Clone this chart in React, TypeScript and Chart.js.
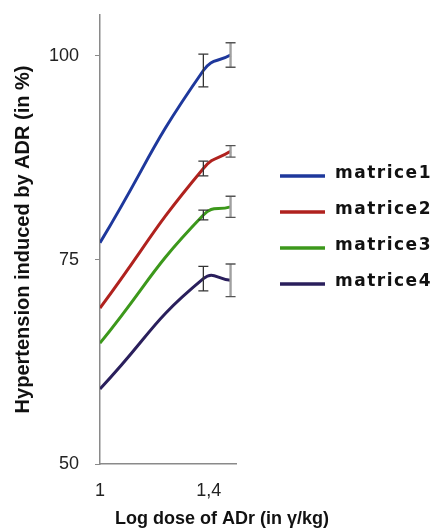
import React, { useEffect, useRef } from 'react';
import { Chart, registerables } from 'chart.js';
Chart.register(...registerables);

// ---- data ----
const doses = [1, 1.38, 1.48];
const seriesNames = ['matrice1', 'matrice2', 'matrice3', 'matrice4'];
const matrice1 = [77.1, 98.2, 100.1];
const matrice2 = [69.1, 86.2, 88.3];
const matrice3 = [64.8, 80.5, 81.5];
const matrice4 = [59.2, 72.7, 72.5];
const err1 = [0, 2.0, 1.5];
const err2 = [0, 0.9, 0.7];
const err3 = [0, 0.6, 1.3];
const err4 = [0, 1.5, 2.0];
const xTicks = [1, 1.4];
const yTicks = [50, 75, 100];
const xTitle = 'Log dose of ADr (in γ/kg)';
const yTitle = 'Hypertension induced by ADR (in %)';

const colors = ['#1e389c', '#b0221e', '#3c981b', '#2a1f5c'];
const seriesValues = [matrice1, matrice2, matrice3, matrice4];
const seriesErrors = [err1, err2, err3, err4];

const errorBarPlugin = {
  id: 'errorBars',
  afterDatasetsDraw(chart: any, _args: any, opts: any) {
    const { ctx, scales } = chart;
    const x = scales.x, y = scales.y;
    chart.data.datasets.forEach((ds: any) => {
      const errs = ds.errors;
      if (!errs) return;
      ds.data.forEach((p: any, i: number) => {
        const e = errs[i];
        if (!e) return;
        const px = x.getPixelForValue(p.x);
        const top = y.getPixelForValue(p.y + e);
        const bot = y.getPixelForValue(p.y - e);
        ctx.save();
        ctx.lineWidth = opts.widths[i] || 1.2;
        ctx.strokeStyle = opts.colors[i] || '#333';
        ctx.beginPath();
        ctx.moveTo(px, top);
        ctx.lineTo(px, bot);
        ctx.stroke();
        ctx.lineWidth = 1.3;
        ctx.strokeStyle = opts.capColors[i] || '#333';
        ctx.beginPath();
        ctx.moveTo(px - opts.cap, top);
        ctx.lineTo(px + opts.cap, top);
        ctx.moveTo(px - opts.cap, bot);
        ctx.lineTo(px + opts.cap, bot);
        ctx.stroke();
        ctx.restore();
      });
    });
  },
};

const sideLegendPlugin = {
  id: 'sideLegend',
  afterDraw(chart: any, _args: any, opts: any) {
    const { ctx, chartArea } = chart;
    const x0 = chartArea.right + opts.offsetX;
    chart.data.datasets.forEach((ds: any, i: number) => {
      const yc = chartArea.top + opts.offsetY + i * opts.spacing;
      ctx.save();
      ctx.strokeStyle = ds.borderColor;
      ctx.lineWidth = 3.5;
      ctx.beginPath();
      ctx.moveTo(x0, yc);
      ctx.lineTo(x0 + opts.lineLen, yc);
      ctx.stroke();
      ctx.fillStyle = '#111';
      ctx.font = opts.font;
      (ctx as any).letterSpacing = opts.letterSpacing;
      ctx.textBaseline = 'middle';
      ctx.textAlign = 'left';
      ctx.fillText(ds.label, x0 + opts.lineLen + opts.gap, yc - 2);
      ctx.restore();
    });
  },
};

const xTitlePlugin = {
  id: 'xTitleText',
  afterDraw(chart: any, _args: any, opts: any) {
    const { ctx, chartArea } = chart;
    ctx.save();
    ctx.fillStyle = '#111';
    ctx.font = opts.font;
    ctx.textAlign = 'center';
    ctx.textBaseline = 'middle';
    ctx.fillText(opts.text, chartArea.left + opts.dx, chartArea.bottom + opts.dy);
    ctx.restore();
  },
};

export default function App() {
  const ref = useRef<HTMLCanvasElement | null>(null);

  useEffect(() => {
    if (!ref.current) return;
    const datasets = seriesNames.map((name, si) => ({
      label: name,
      data: doses.map((d, i) => ({ x: d, y: seriesValues[si][i] })),
      errors: seriesErrors[si],
      borderColor: colors[si],
      backgroundColor: colors[si],
      borderWidth: 3,
      pointRadius: 0,
      tension: 0.5,
      fill: false,
    }));

    const chart = new Chart(ref.current, {
      type: 'line',
      data: { datasets } as any,
      options: {
        animation: false,
        responsive: false,
        layout: { padding: { top: 15, right: 202, left: 0, bottom: 0 } },
        plugins: {
          legend: { display: false },
          tooltip: { enabled: false },
          errorBars: {
            colors: ['#333', '#333', '#a0a0a0'],
            capColors: ['#333', '#333', '#555'],
            widths: [0, 1.3, 2.4],
            cap: 5,
          },
          sideLegend: {
            offsetX: 44,
            offsetY: 161,
            spacing: 36,
            lineLen: 45,
            gap: 10,
            font: 'bold 17px "DejaVu Sans"',
            letterSpacing: '1.5px',
          },
          xTitleText: {
            text: xTitle,
            font: 'bold 18px "Liberation Sans"',
            dx: 122,
            dy: 55,
          },
        } as any,
        scales: {
          x: {
            type: 'linear',
            min: 1,
            max: 1.5,
            afterBuildTicks: (scale: any) => {
              scale.ticks = xTicks.map((v) => ({ value: v }));
            },
            afterFit: (scale: any) => {
              scale.height = 68;
              scale.paddingLeft = 0;
              scale.paddingRight = 0;
            },
            grid: { display: true, drawOnChartArea: false, drawTicks: false },
            border: { display: true, color: '#8a8a8a', width: 1.5 },
            ticks: {
              padding: 16,
              color: '#222',
              font: { family: '"Liberation Sans"', size: 18 },
              callback: (v: any) => String(v).replace('.', ','),
              maxRotation: 0,
            },
          },
          y: {
            type: 'linear',
            min: 50,
            max: 105,
            afterBuildTicks: (scale: any) => {
              scale.ticks = yTicks.map((v) => ({ value: v }));
            },
            afterFit: (scale: any) => {
              scale.width = 100;
              scale.paddingTop = 0;
              scale.paddingBottom = 0;
            },
            grid: { display: true, drawOnChartArea: false, drawTicks: true, tickLength: 5, color: '#8a8a8a' },
            border: { display: true, color: '#8a8a8a', width: 1.5 },
            ticks: {
              padding: 16,
              color: '#222',
              font: { family: '"Liberation Sans"', size: 18 },
            },
            title: {
              display: true,
              text: yTitle,
              color: '#111',
              font: { family: '"Liberation Sans"', size: 20, weight: 'bold' },
              padding: { top: 11, bottom: 0 },
            },
          },
        },
      } as any,
      plugins: [errorBarPlugin, sideLegendPlugin, xTitlePlugin],
    });
    return () => chart.destroy();
  }, []);

  return (
    <div style={{ position: 'fixed', left: 0, top: 0, width: 438, height: 532, background: '#fff' }}>
      <canvas ref={ref} width={438} height={532} />
    </div>
  );
}
